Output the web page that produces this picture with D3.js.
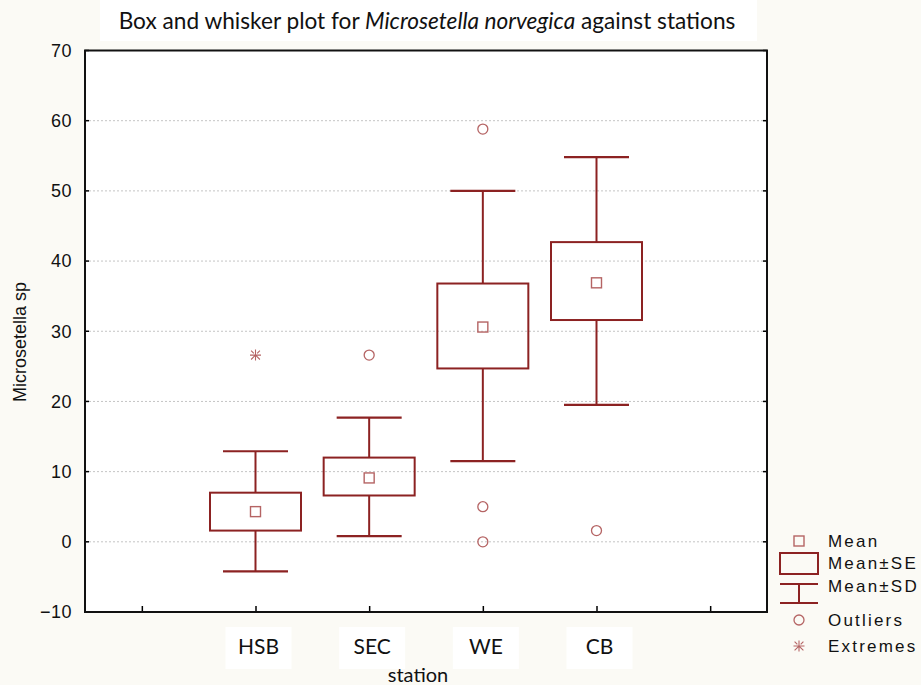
<!DOCTYPE html>
<html>
<head>
<meta charset="utf-8">
<script src="https://cdn.jsdelivr.net/npm/d3@7"></script>
<style>
  html, body { margin: 0; padding: 0; background: #fbfaf5; }
  svg { display: block; }
</style>
</head>
<body>
<svg id="chart" width="921" height="685"></svg>
<script>
// ---- data ----
const categories = ["HSB", "SEC", "WE", "CB"];
const means   = [4.3, 9.1, 30.6, 36.9];
const seLow   = [1.6, 6.6, 24.7, 31.6];
const seHigh  = [7.0, 12.0, 36.8, 42.7];
const sdLow   = [-4.2, 0.8, 11.5, 19.5];
const sdHigh  = [12.9, 17.7, 50.0, 54.8];
const outlierStations = ["SEC", "WE", "WE", "WE", "CB"];
const outlierValues   = [26.6, 58.8, 5.0, 0.0, 1.6];
const extremeStations = ["HSB"];
const extremeValues   = [26.6];
const yTicks = [-10, 0, 10, 20, 30, 40, 50, 60, 70];
const legendLabels = ["Mean", "Mean±SE", "Mean±SD", "Outliers", "Extremes"];

// ---- layout ----
const svg = d3.select("#chart");
const W = 921, H = 685;
const plot = { left: 85, right: 767, top: 50.5, bottom: 612 };
const dark = "#8c2222";
const light = "#b56464";

const x = d3.scaleLinear().domain([-0.5, categories.length + 1.5]).range([plot.left, plot.right]);
const xPos = c => x(categories.indexOf(c) + 1);
const y = d3.scaleLinear().domain([-10, 70]).range([plot.bottom, plot.top]);

// background
svg.append("rect").attr("width", W).attr("height", H).attr("fill", "#fbfaf5");
svg.append("rect").attr("x", 100).attr("y", 0).attr("width", 657).attr("height", 41).attr("fill", "#ffffff");
svg.append("rect").attr("x", plot.left).attr("y", plot.top)
  .attr("width", plot.right - plot.left).attr("height", plot.bottom - plot.top).attr("fill", "#ffffff");

// gridlines
svg.append("g").selectAll("line").data(yTicks.filter(t => t > -10 && t < 70)).join("line")
  .attr("x1", plot.left).attr("x2", plot.right)
  .attr("y1", d => y(d)).attr("y2", d => y(d))
  .attr("stroke", "#c4c4c4").attr("stroke-width", 1).attr("stroke-dasharray", "2,2");

// inward y ticks left/right
const tk = svg.append("g");
tk.selectAll("line.l").data(yTicks).join("line").attr("class", "l")
  .attr("x1", plot.left).attr("x2", plot.left + 4).attr("y1", d => y(d)).attr("y2", d => y(d))
  .attr("stroke", "#000").attr("stroke-width", 1.5);
tk.selectAll("line.r").data(yTicks).join("line").attr("class", "r")
  .attr("x1", plot.right - 4).attr("x2", plot.right).attr("y1", d => y(d)).attr("y2", d => y(d))
  .attr("stroke", "#000").attr("stroke-width", 1.5);

// y axis labels
const yAxis = d3.axisLeft(y).tickValues(yTicks).tickSize(0).tickPadding(13).tickFormat(d3.format("d"));
const yg = svg.append("g").attr("transform", `translate(${plot.left},0)`).call(yAxis);
yg.select(".domain").remove();
yg.selectAll("text").attr("font-family", "Liberation Sans, Arial, sans-serif")
  .attr("font-size", 18).attr("fill", "#111").attr("letter-spacing", 0.5);

// x axis ticks (inward)
const xAxis = d3.axisBottom(x).tickValues(d3.range(0, categories.length + 2)).tickSizeInner(-6).tickSizeOuter(0).tickFormat("");
const xg = svg.append("g").attr("transform", `translate(0,${plot.bottom})`).call(xAxis);
xg.select(".domain").remove();
xg.selectAll("line").attr("stroke", "#000").attr("stroke-width", 1.5);

// frame
svg.append("rect").attr("x", plot.left).attr("y", plot.top)
  .attr("width", plot.right - plot.left).attr("height", plot.bottom - plot.top)
  .attr("fill", "none").attr("stroke", "#111").attr("stroke-width", 2);

// boxes
const boxHalf = 45.5, capHalf = 32.5;
const g = svg.append("g");
categories.forEach((c, i) => {
  const cx = xPos(c);
  g.append("line").attr("x1", cx).attr("x2", cx).attr("y1", y(sdHigh[i])).attr("y2", y(seHigh[i]))
    .attr("stroke", dark).attr("stroke-width", 2);
  g.append("line").attr("x1", cx).attr("x2", cx).attr("y1", y(seLow[i])).attr("y2", y(sdLow[i]))
    .attr("stroke", dark).attr("stroke-width", 2);
  [sdHigh[i], sdLow[i]].forEach(v => {
    g.append("line").attr("x1", cx - capHalf).attr("x2", cx + capHalf).attr("y1", y(v)).attr("y2", y(v))
      .attr("stroke", dark).attr("stroke-width", 2.2);
  });
  g.append("rect").attr("x", cx - boxHalf).attr("y", y(seHigh[i]))
    .attr("width", boxHalf * 2).attr("height", y(seLow[i]) - y(seHigh[i]))
    .attr("fill", "none").attr("stroke", dark).attr("stroke-width", 2);
  g.append("rect").attr("x", cx - 5).attr("y", y(means[i]) - 5).attr("width", 10).attr("height", 10)
    .attr("fill", "none").attr("stroke", light).attr("stroke-width", 1.4);
});

// outliers
g.selectAll("circle.out").data(outlierValues).join("circle").attr("class", "out")
  .attr("cx", (d, i) => xPos(outlierStations[i])).attr("cy", d => y(d)).attr("r", 5)
  .attr("fill", "none").attr("stroke", light).attr("stroke-width", 1.3);

// extremes (asterisk-like glyph)
function extremeGlyph(sel, cx, cy) {
  const r = 5.5;
  const p = d3.path();
  p.moveTo(cx - r, cy); p.lineTo(cx + r, cy);
  p.moveTo(cx, cy - r); p.lineTo(cx, cy + r);
  p.moveTo(cx - r * 0.8, cy - r * 0.8); p.lineTo(cx - r * 0.3, cy - r * 0.3);
  p.moveTo(cx + r * 0.8, cy - r * 0.8); p.lineTo(cx + r * 0.3, cy - r * 0.3);
  p.moveTo(cx - r * 0.8, cy + r * 0.8); p.lineTo(cx - r * 0.1, cy + r * 0.1);
  p.moveTo(cx + r * 0.8, cy + r * 0.8); p.lineTo(cx + r * 0.1, cy + r * 0.1);
  sel.append("path").attr("d", p.toString()).attr("fill", "none").attr("stroke", light).attr("stroke-width", 1.1);
}
extremeValues.forEach((v, i) => extremeGlyph(g, xPos(extremeStations[i]), y(v)));

// title
const title = svg.append("text").attr("x", 427).attr("y", 29).attr("text-anchor", "middle")
  .attr("font-family", "Lato, 'Open Sans', sans-serif").attr("font-size", 20).attr("fill", "#111");
title.append("tspan").text("Box and whisker plot for ");
title.append("tspan").attr("font-style", "italic").text("Microsetella norvegica");
title.append("tspan").text(" against stations");
const tw = title.node().getComputedTextLength();
title.attr("font-size", 20 * 617 / tw);

// category labels with white patches
const labG = svg.append("g");
categories.forEach((c, i) => {
  const cx = xPos(c) + 3;
  labG.append("rect").attr("x", cx - 33).attr("y", 627).attr("width", 66).attr("height", 42).attr("fill", "#ffffff");
  labG.append("text").attr("x", cx).attr("y", 654).attr("text-anchor", "middle")
    .attr("font-family", "Lato, 'Open Sans', sans-serif").attr("font-size", 21).attr("fill", "#111").text(c);
});
svg.append("text").attr("x", 418).attr("y", 682).attr("text-anchor", "middle")
  .attr("font-family", "Lato, 'Open Sans', sans-serif").attr("font-size", 20).attr("fill", "#111").text("station");

// y axis title
svg.append("text").attr("transform", `translate(26,342) rotate(-90)`).attr("text-anchor", "middle")
  .attr("font-family", "Liberation Sans, Arial, sans-serif").attr("font-size", 18).attr("fill", "#111")
  .text("Microsetella sp");

// legend
const lx = 799, lt = 828;
const rowY = [541, 563, 586, 620, 646];
const leg = svg.append("g");
leg.selectAll("text").data(legendLabels).join("text")
  .attr("x", lt).attr("y", (d, i) => rowY[i]).attr("dy", "0.35em")
  .attr("font-family", "Liberation Sans, Arial, sans-serif").attr("font-size", 17)
  .attr("letter-spacing", 2.2).attr("fill", "#111").text(d => d);
leg.append("rect").attr("x", lx - 5).attr("y", rowY[0] - 5).attr("width", 10).attr("height", 10)
  .attr("fill", "none").attr("stroke", light).attr("stroke-width", 1.4);
leg.append("rect").attr("x", lx - 19).attr("y", rowY[1] - 10).attr("width", 38).attr("height", 21)
  .attr("fill", "none").attr("stroke", dark).attr("stroke-width", 2);
leg.append("line").attr("x1", lx - 19).attr("x2", lx + 19).attr("y1", rowY[2] - 2).attr("y2", rowY[2] - 2)
  .attr("stroke", dark).attr("stroke-width", 2);
leg.append("line").attr("x1", lx - 19).attr("x2", lx + 19).attr("y1", rowY[2] + 17).attr("y2", rowY[2] + 17)
  .attr("stroke", dark).attr("stroke-width", 2);
leg.append("line").attr("x1", lx).attr("x2", lx).attr("y1", rowY[2] - 2).attr("y2", rowY[2] + 17)
  .attr("stroke", dark).attr("stroke-width", 2);
leg.append("circle").attr("cx", lx).attr("cy", rowY[3]).attr("r", 5)
  .attr("fill", "none").attr("stroke", light).attr("stroke-width", 1.3);
extremeGlyph(leg, lx, rowY[4]);
</script>
</body>
</html>
